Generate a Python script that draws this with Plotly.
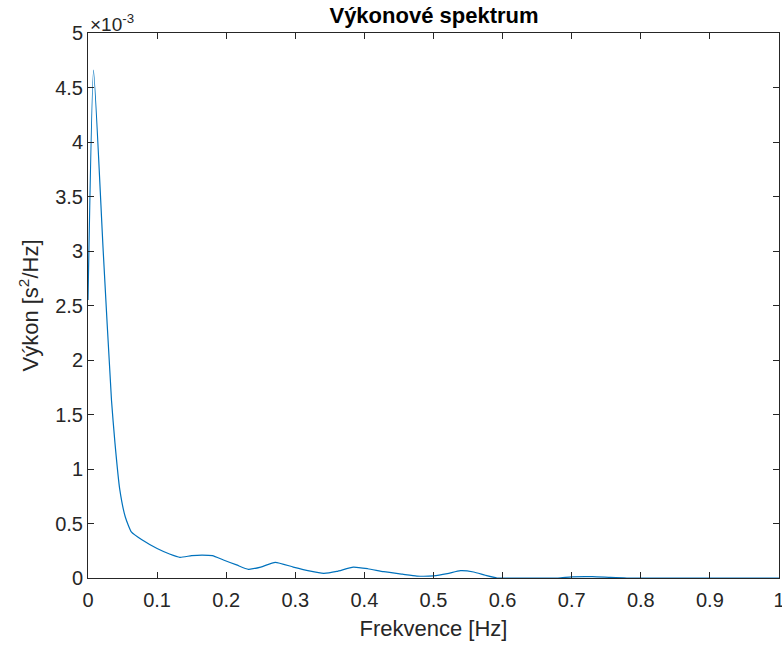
import plotly.graph_objects as go

# Frequency [Hz]
freq = [0, 0.008, 0.022, 0.034, 0.039, 0.046, 0.054, 0.063, 0.078, 0.1, 0.118, 0.133,
        0.15, 0.165, 0.18, 0.196, 0.215, 0.232, 0.25, 0.271, 0.297, 0.32, 0.341, 0.36,
        0.384, 0.405, 0.428, 0.455, 0.476, 0.5, 0.52, 0.539, 0.558, 0.575, 0.592, 0.62,
        0.68, 0.7, 0.73, 0.756, 0.78, 1.0]
# Power in units of 1e-3 s^2/Hz
power_e3 = [2.55, 4.66, 3.0, 1.63, 1.24, 0.81, 0.56, 0.42, 0.35, 0.27, 0.22, 0.19,
            0.205, 0.21, 0.205, 0.165, 0.12, 0.08, 0.10, 0.144, 0.10, 0.065, 0.043, 0.06,
            0.10, 0.085, 0.058, 0.035, 0.018, 0.02, 0.04, 0.067, 0.055, 0.025, 0.0, 0.0,
            0.0, 0.01, 0.012, 0.005, 0.0, 0.0]

x_ticks = [0, 0.1, 0.2, 0.3, 0.4, 0.5, 0.6, 0.7, 0.8, 0.9, 1]
x_labels = ["0", "0.1", "0.2", "0.3", "0.4", "0.5", "0.6", "0.7", "0.8", "0.9", "1"]
y_ticks = [0, 0.5, 1, 1.5, 2, 2.5, 3, 3.5, 4, 4.5, 5]
y_labels = ["0", "0.5", "1", "1.5", "2", "2.5", "3", "3.5", "4", "4.5", "5"]

axcol = "#262626"
font = "Liberation Sans, Arial, sans-serif"

fig = go.Figure()
fig.add_trace(go.Scatter(x=freq, y=power_e3, mode="lines",
                         line=dict(color="#0072BD", width=1.2, shape="spline", smoothing=0.5)))

axis_common = dict(showline=True, linecolor=axcol, linewidth=1, mirror="ticks",
                   ticks="inside", ticklen=6, tickcolor=axcol, tickwidth=1,
                   showgrid=False, zeroline=False, automargin=False,
                   ticklabeloverflow="allow",
                   tickfont=dict(family=font, size=20, color=axcol))

fig.update_layout(
    width=782, height=647,
    margin=dict(l=88, r=3, t=33, b=69),
    paper_bgcolor="white", plot_bgcolor="white",
    showlegend=False,
    title=dict(text="<b>Výkonové spektrum</b>", x=434 / 782, xanchor="center",
               y=1 - 15 / 647, yanchor="middle",
               font=dict(family=font, size=22, color="black")),
    xaxis=dict(range=[0, 1], tickvals=x_ticks, ticktext=x_labels,
               ticklabelstandoff=4,
               title=dict(text="Frekvence [Hz]", font=dict(family=font, size=22, color=axcol),
                          standoff=10),
               **axis_common),
    yaxis=dict(range=[0, 5], tickvals=y_ticks, ticktext=y_labels,
               title=dict(text="Výkon [s<sup>2</sup>/Hz]", font=dict(family=font, size=22, color=axcol),
                          standoff=10),
               **axis_common),
)

fig.add_annotation(text="×10<sup>-3</sup>", xref="paper", yref="paper", x=0, y=1,
                   xanchor="left", yanchor="bottom", showarrow=False, yshift=-4,
                   font=dict(family=font, size=19, color=axcol))

fig.write_html("out.html", config={"displayModeBar": False},
               post_script="document.body.style.margin='0px';")
